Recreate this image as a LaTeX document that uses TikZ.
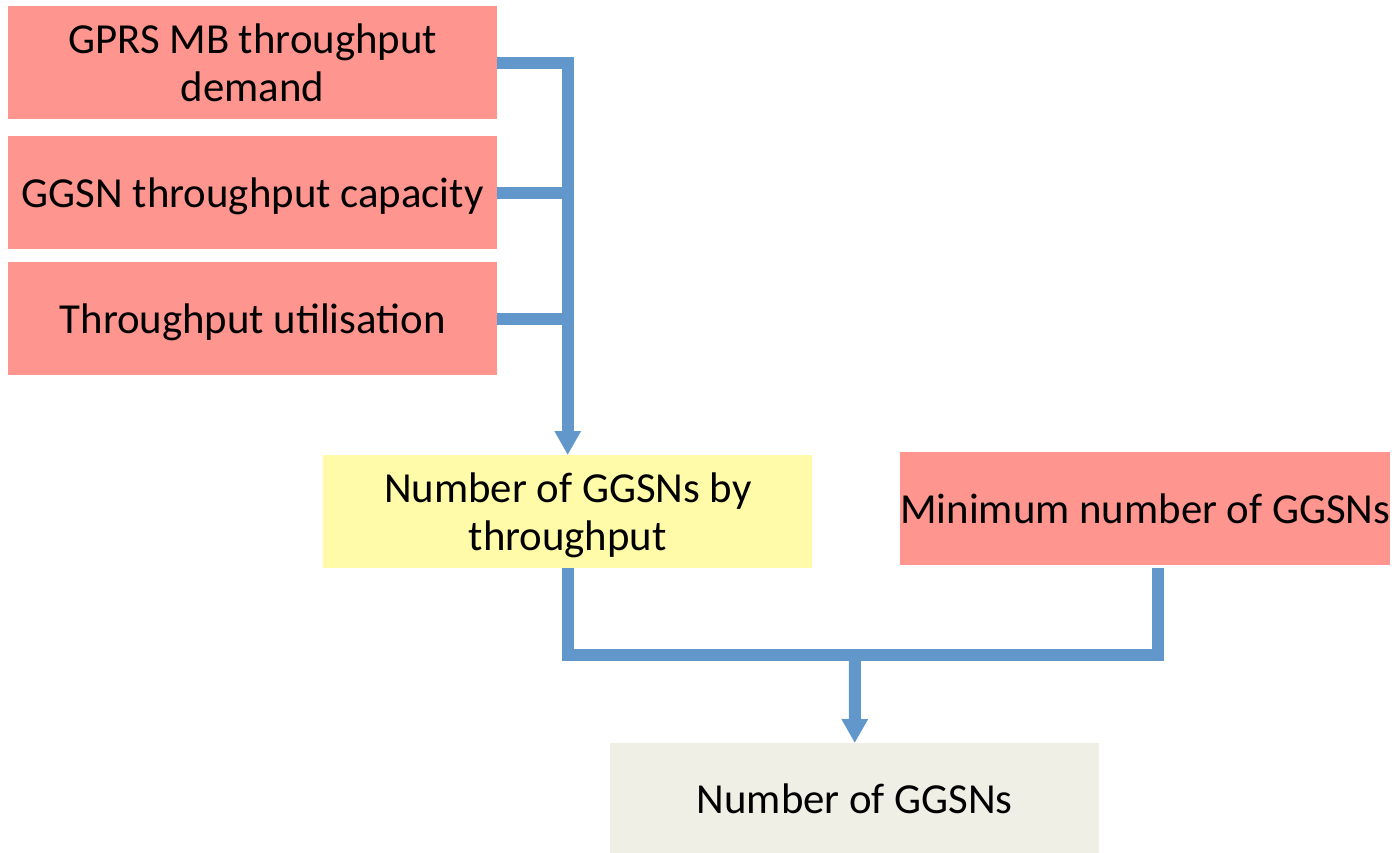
\documentclass[tikz,border=0pt]{standalone}
\usepackage{fontspec}
\setmainfont{Carlito}
\usetikzlibrary{arrows.meta}
\definecolor{salmon}{HTML}{FF958F}
\definecolor{paleyellow}{HTML}{FFFBA8}
\definecolor{beige}{HTML}{EFEFE6}
\definecolor{linkblue}{HTML}{6297CB}
\tikzset{
  box/.style={anchor=north west, inner sep=0pt, minimum width=489pt, minimum height=113pt,
    align=center, font=\fontsize{42.8}{48}\selectfont, text=black, text depth=0pt},
  link/.style={draw=linkblue, line width=12pt},
  arrowlink/.style={link, -{Triangle[width=25pt,length=24pt]}},
}
\begin{document}
\begin{tikzpicture}[x=1pt,y=-1pt]
\useasboundingbox (0,0) rectangle (1392,853);
\node[box, fill=salmon] (A) at (8,6) {GPRS MB throughput\\demand};
\node[box, fill=salmon] (B) at (8,136) {GGSN throughput capacity};
\node[box, fill=salmon] (C) at (8,262) {Throughput utilisation};
\node[box, fill=paleyellow] (D) at (323,455) {Number of GGSNs by\\throughput};
\node[box, fill=salmon] (E) at (900,452) {Minimum number of GGSNs};
\node[box, fill=beige, minimum height=110pt] (F) at (610,743) {Number of GGSNs};
\coordinate (m) at (855,655);
\coordinate (e) at (1158,568);
\draw[arrowlink] (A.east) -| (D.north);
\draw[link] (B.east) -- (B.east -| D.north);
\draw[link] (C.east) -- (C.east -| D.north);
\draw[link] (D.south) |- (m) -| (e);
\draw[arrowlink] (m) -- (F.north);
\end{tikzpicture}
\end{document}
